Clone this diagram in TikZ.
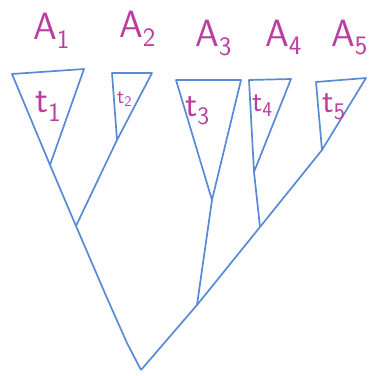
\documentclass[tikz,border=0pt]{standalone}
\usepackage{tikz}
\usetikzlibrary{positioning}
\definecolor{penblue}{RGB}{88,138,214}
\definecolor{penpink}{RGB}{186,62,160}
\tikzset{
    tri/.style={draw=penblue, line width=1.7pt, line join=round},
    edge/.style={draw=penblue, line width=1.7pt, line join=round},
    leaflab/.style={text=penpink, anchor=base west, inner sep=0pt, font=\sffamily\fontsize{38}{38}\selectfont},
    treelab/.style={text=penpink, anchor=base west, inner sep=0pt, font=\sffamily\fontsize{34}{34}\selectfont}
}

\begin{document}
\begin{tikzpicture}[x=1pt, y=-1pt]
    \useasboundingbox (0,0) rectangle (369,376);

    % Leaf labels
    \node (lab_a1) [leaflab] at (33,39) {A\textsubscript{1}};
    \node (lab_a2) [leaflab] at (119,37) {A\textsubscript{2}};
    \node (lab_a3) [leaflab] at (195,46) {A\textsubscript{3}};
    \node (lab_a4) [leaflab] at (265,46) {A\textsubscript{4}};
    \node (lab_a5) [leaflab] at (331,46) {A\textsubscript{5}};

    % Subtree triangles
    \coordinate (t1_l) at (12,74);  \coordinate (t1_r) at (84,69);  \coordinate (t1_b) at (50,165);
    \coordinate (t2_l) at (112,73); \coordinate (t2_r) at (152,73); \coordinate (t2_b) at (117,140);
    \coordinate (t3_l) at (176,80); \coordinate (t3_r) at (241,80); \coordinate (t3_b) at (212,200);
    \coordinate (t4_l) at (249,80); \coordinate (t4_r) at (291,79); \coordinate (t4_b) at (254,172);
    \coordinate (t5_l) at (316,82); \coordinate (t5_r) at (366,78); \coordinate (t5_b) at (322,150);
    \draw [tri] (t1_l) -- (t1_r) -- (t1_b) -- cycle;
    \draw [tri] (t2_l) -- (t2_r) -- (t2_b) -- cycle;
    \draw [tri] (t3_l) -- (t3_r) -- (t3_b) -- cycle;
    \draw [tri] (t4_l) -- (t4_r) -- (t4_b) -- cycle;
    \draw [tri] (t5_l) -- (t5_r) -- (t5_b) -- cycle;

    % Subtree labels
    \node (lab_t1) [treelab, font=\sffamily\fontsize{38}{38}\selectfont] at (35,112) {t\textsubscript{1}};
    \node (lab_t2) [treelab, font=\sffamily\fontsize{21}{21}\selectfont] at (117,103) {t\textsubscript{2}};
    \node (lab_t3) [treelab, font=\sffamily\fontsize{36}{36}\selectfont] at (185,116) {t\textsubscript{3}};
    \node (lab_t4) [treelab, font=\sffamily\fontsize{30}{30}\selectfont] at (252,111) {t\textsubscript{4}};
    \node (lab_t5) [treelab] at (322,112) {t\textsubscript{5}};

    % Inner vertices
    \coordinate (n12) at (76,226);
    \coordinate (n45) at (260,227);
    \coordinate (n345) at (197,305);
    \coordinate (root) at (141,370);
    \coordinate (k1) at (107,298);
    \coordinate (k2) at (127,343);

    % Branches
    \draw [edge] (t1_b) -- (n12);
    \draw [edge] (t2_b) -- (n12);
    \draw [edge] (t4_b) -- (n45);
    \draw [edge] (t5_b) -- (n45);
    \draw [edge] (t3_b) -- (n345);
    \draw [edge] (n45) -- (n345);
    \draw [edge] (n12) -- (k1) -- (k2) -- (root);
    \draw [edge] (n345) -- (root);
\end{tikzpicture}
\end{document}
